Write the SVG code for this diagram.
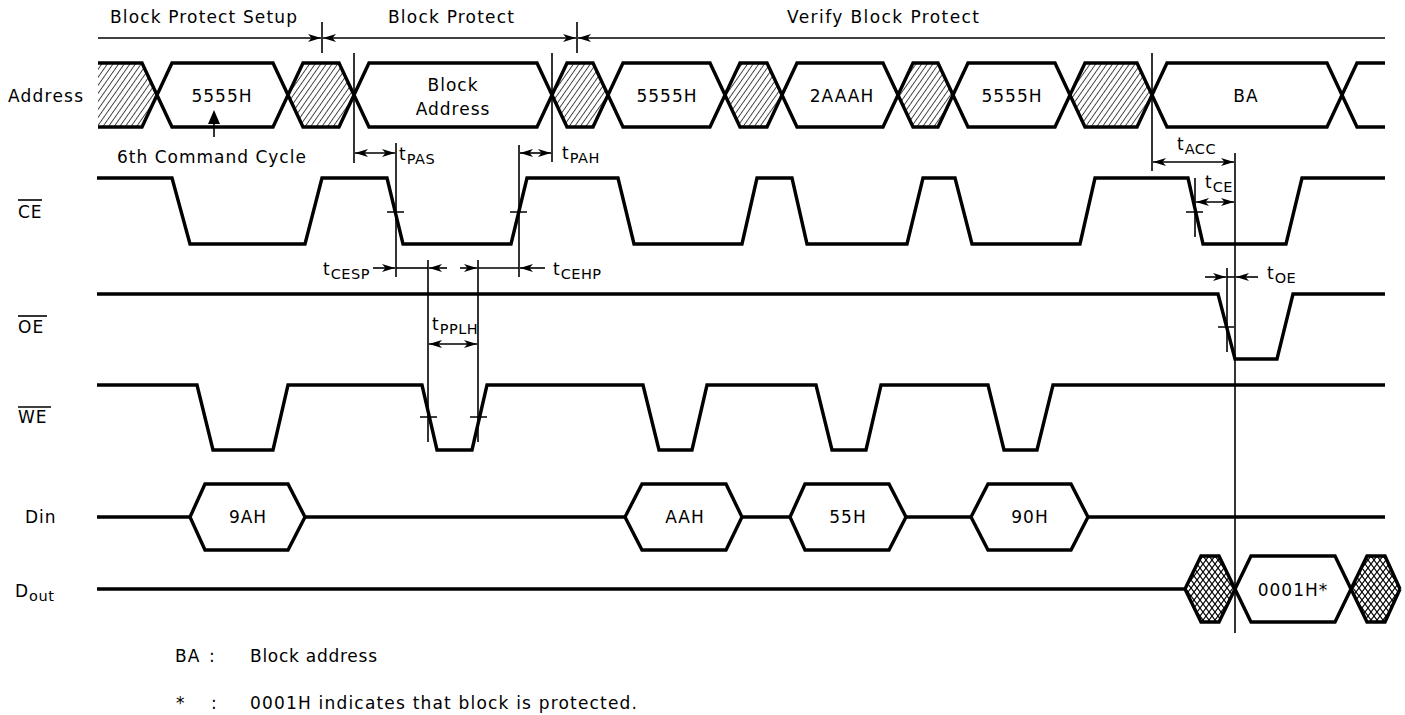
<svg xmlns="http://www.w3.org/2000/svg" width="1405" height="715" viewBox="0 0 1405 715">
<style>
.t{font-family:"DejaVu Sans","Liberation Sans",sans-serif;font-size:17px;letter-spacing:1px;fill:#000}
.m{text-anchor:middle}
.sub{font-size:14.5px;letter-spacing:0.5px}
.sig{fill:none;stroke:#000;stroke-width:3.4;stroke-linejoin:miter}
.thin{fill:none;stroke:#000;stroke-width:1.6}
.arr{fill:none;stroke:#000;stroke-width:1.6}
.ab{marker-start:url(#ah);marker-end:url(#ah)}
.ae{marker-end:url(#ah)}
.as{marker-start:url(#ah)}
</style>
<defs>
<marker id="ah" viewBox="0 0 13 8" refX="13" refY="4" markerWidth="13" markerHeight="8" markerUnits="userSpaceOnUse" orient="auto-start-reverse"><path d="M0,0 L13,4 L0,8 L3.5,4 Z" fill="#000"/></marker>
<pattern id="hatch" patternUnits="userSpaceOnUse" width="4.6" height="5" patternTransform="rotate(35)"><line x1="0" y1="-1" x2="0" y2="6" stroke="#000" stroke-width="1.4"/></pattern>
<pattern id="xhatch" patternUnits="userSpaceOnUse" width="6" height="8"><path d="M0,0 L6,8 M6,0 L0,8" stroke="#000" stroke-width="1.1"/></pattern>
</defs>
<rect width="1405" height="715" fill="#fff"/>

<g id="header">
<text class="t" x="110" y="23" textLength="188">Block Protect Setup</text>
<text class="t" x="388" y="23" textLength="127">Block Protect</text>
<text class="t" x="787" y="23" textLength="193">Verify Block Protect</text>
</g>

<g id="labels">
<text class="t" x="8" y="102" textLength="76">Address</text>
<text class="t" x="18" y="218">CE</text>
<line class="thin" x1="18" y1="200" x2="42" y2="200"/>
<text class="t" x="18" y="333">OE</text>
<line class="thin" x1="18" y1="316" x2="47" y2="316"/>
<text class="t" x="18" y="423">WE</text>
<line class="thin" x1="18" y1="407" x2="51" y2="407"/>
<text class="t" x="25" y="523">Din</text>
<text class="t" x="15" y="597">D<tspan class="sub" dy="4">out</tspan></text>
</g>

<g id="address">
<g fill="url(#hatch)" stroke="none">
<polygon points="98,63 142,63 157,95 142,127 98,127"/>
<polygon points="288,95 303,63 339,63 354,95 339,127 303,127"/>
<polygon points="552,95 567,63 593,63 608,95 593,127 567,127"/>
<polygon points="725,95 740,63 767,63 782,95 767,127 740,127"/>
<polygon points="898,95 913,63 938,63 953,95 938,127 913,127"/>
<polygon points="1070,95 1085,63 1137,63 1152,95 1137,127 1085,127"/>
</g>
<polyline class="sig" points="98,63 142,63 172,127 273,127 303,63 339,63 369,127 537,127 567,63 593,63 623,127 710,127 740,63 767,63 797,127 883,127 913,63 938,63 968,127 1055,127 1085,63 1137,63 1167,127 1327,127 1357,63 1385,63"/>
<polyline class="sig" points="98,127 142,127 172,63 273,63 303,127 339,127 369,63 537,63 567,127 593,127 623,63 710,63 740,127 767,127 797,63 883,63 913,127 938,127 968,63 1055,63 1085,127 1137,127 1167,63 1327,63 1357,127 1385,127"/>
<text class="t m" x="222" y="102">5555H</text>
<text class="t m" x="453" y="91">Block</text>
<text class="t m" x="453" y="115">Address</text>
<text class="t m" x="667" y="102">5555H</text>
<text class="t m" x="842" y="102">2AAAH</text>
<text class="t m" x="1012" y="102">5555H</text>
<text class="t m" x="1246" y="102">BA</text>
<polygon points="214,110 208,124 220,124" fill="#000"/>
<line class="thin" x1="214" y1="122" x2="214" y2="137"/>
<text class="t" x="117" y="163">6th Command Cycle</text>
</g>

<g id="ce">
<polyline class="sig" points="97,178 172,178 190,244 305,244 322,178 387,178 403,244 511,244 527,178 618,178 634,244 742,244 757,178 792,178 807,244 907,244 923,178 955,178 972,244 1080,244 1095,178 1188,178 1203,244 1286,244 1302,178 1385,178"/>
</g>

<g id="oe">
<polyline class="sig" points="97,294 1218,294 1235,359 1277,359 1293,294 1385,294"/>
</g>

<g id="we">
<polyline class="sig" points="97,385 197,385 213,450 273,450 288,385 422,385 437,450 472,450 487,385 643,385 659,450 692,450 707,385 816,385 832,450 866,450 881,385 988,385 1004,450 1037,450 1053,385 1385,385"/>
</g>

<g id="din">
<path class="sig" d="M97,517 H190 M305,517 H625 M742,517 H790 M906,517 H971 M1088,517 H1385"/>
<polygon class="sig" points="190,517 205,484 288,484 305,517 288,550 205,550"/>
<polygon class="sig" points="625,517 642,484 726,484 742,517 726,550 642,550"/>
<polygon class="sig" points="790,517 805,484 889,484 906,517 889,550 805,550"/>
<polygon class="sig" points="971,517 988,484 1071,484 1088,517 1071,550 988,550"/>
<text class="t m" x="248" y="523">9AH</text>
<text class="t m" x="685" y="523">AAH</text>
<text class="t m" x="848" y="523">55H</text>
<text class="t m" x="1030" y="523">90H</text>
</g>

<g id="dout">
<polygon points="1185,589 1201,556 1219,556 1235,589 1219,622 1201,622" fill="url(#xhatch)"/>
<polygon points="1351,589 1367,556 1385,556 1401,589 1385,622 1367,622" fill="url(#xhatch)"/>
<polyline class="sig" points="97,589 1185,589 1201,556 1219,556 1251,622 1335,622 1367,556 1385,556 1400,589"/>
<polyline class="sig" points="1185,589 1201,622 1219,622 1251,556 1335,556 1367,622 1385,622 1400,589"/>
<text class="t m" x="1293" y="596">0001H*</text>
</g>

<g id="connectors">
<path class="arr ae" d="M98,38 H321"/>
<path class="arr ab" d="M323,38 H576"/>
<path class="arr as" d="M578,38 H1385"/>
<line class="thin" x1="322" y1="22" x2="322" y2="53"/>
<line class="thin" x1="577" y1="22" x2="577" y2="53"/>

<line class="thin" x1="354" y1="53" x2="354" y2="163"/>
<line class="thin" x1="396" y1="143" x2="396" y2="277"/>
<line class="thin" x1="519" y1="145" x2="519" y2="277"/>
<line class="thin" x1="552" y1="53" x2="552" y2="162"/>
<line class="thin" x1="428" y1="260" x2="428" y2="442"/>
<line class="thin" x1="478" y1="260" x2="478" y2="442"/>
<line class="thin" x1="1152" y1="53" x2="1152" y2="171"/>
<line class="thin" x1="1235" y1="153" x2="1235" y2="633"/>
<line class="thin" x1="1195" y1="178" x2="1195" y2="237"/>
<line class="thin" x1="1227" y1="268" x2="1227" y2="352"/>

<path class="thin" d="M387,212 H404 M510,212 H527 M1186,212 H1203 M420,417 H437 M470,417 H487 M1218,327 H1234"/>

<path class="arr ab" d="M355,153 H395"/>
<path class="arr ab" d="M520,153 H551"/>
<path class="arr ae" d="M373,268 H395"/>
<path class="arr" d="M396,268 H428"/>
<path class="arr ae" d="M447,268 H429"/>
<path class="arr ae" d="M460,268 H477"/>
<path class="arr" d="M478,268 H519"/>
<path class="arr ae" d="M545,268 H520"/>
<path class="arr ab" d="M429,344 H477"/>
<path class="arr ab" d="M1153,162 H1234"/>
<path class="arr ab" d="M1196,202 H1234"/>
<path class="arr ae" d="M1205,277 H1226"/>
<path class="arr ae" d="M1258,277 H1236"/>
<path class="arr" d="M1227,277 H1235"/>
</g>

<g id="timing-labels">
<text class="t" x="399" y="160">t<tspan class="sub" dy="4">PAS</tspan></text>
<text class="t" x="562" y="159">t<tspan class="sub" dy="4">PAH</tspan></text>
<text class="t" x="323" y="275">t<tspan class="sub" dy="4">CESP</tspan></text>
<text class="t" x="553" y="275">t<tspan class="sub" dy="4">CEHP</tspan></text>
<text class="t" x="432" y="330">t<tspan class="sub" dy="4">PPLH</tspan></text>
<text class="t" x="1177" y="150">t<tspan class="sub" dy="4">ACC</tspan></text>
<text class="t" x="1205" y="188">t<tspan class="sub" dy="4">CE</tspan></text>
<text class="t" x="1267" y="279">t<tspan class="sub" dy="4">OE</tspan></text>
</g>

<g id="legend">
<text class="t" x="175" y="662">BA</text>
<text class="t" x="209" y="662">:</text>
<text class="t" x="250" y="662" textLength="128">Block address</text>
<text class="t" x="176" y="709">*</text>
<text class="t" x="211" y="709">:</text>
<text class="t" x="250" y="709" textLength="388">0001H indicates that block is protected.</text>
</g>
</svg>
